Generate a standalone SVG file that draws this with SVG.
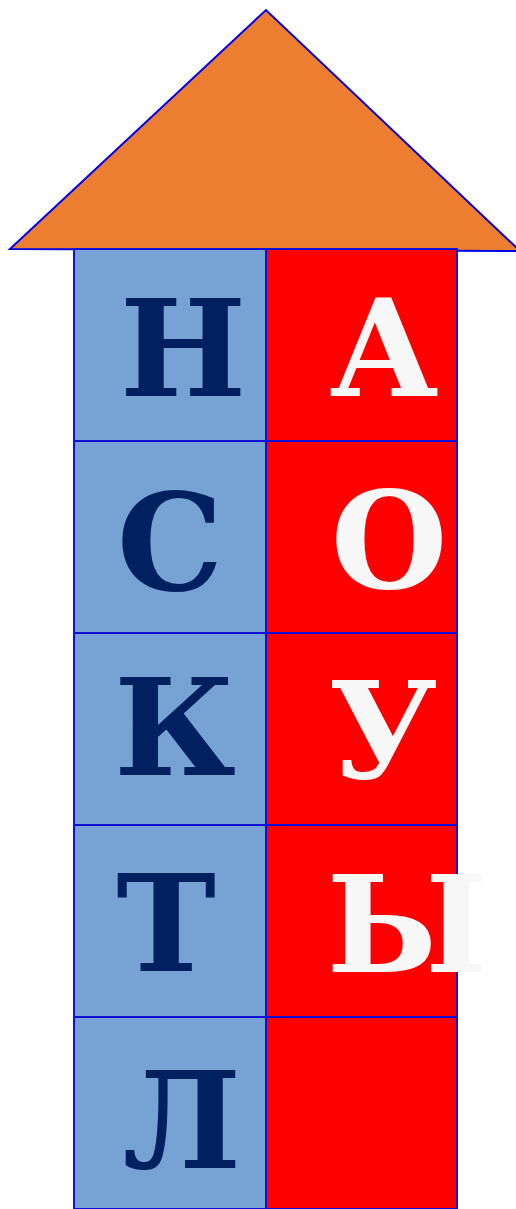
<svg xmlns="http://www.w3.org/2000/svg" width="516" height="1209" viewBox="0 0 516 1209">
<style>
.l{fill:#76A3D3;stroke:#1010D8;stroke-width:2}
.r{fill:#FF0000;stroke:#1010D8;stroke-width:2}
.t{font-family:"DejaVu Serif","Liberation Serif",serif;font-weight:bold;font-size:134px;text-anchor:middle}
.tl{fill:#002060}
.tr{fill:#F7F7F7}
</style>
<rect width="516" height="1209" fill="#FFFFFF"/>
<g id="roof"><polygon points="10,249 266,10 520,251" fill="#ED7D31" stroke="#0000E0" stroke-width="2" stroke-linejoin="miter"/></g>
<g id="cell-n"><rect class="l" x="74" y="249" width="192" height="192"/><text class="t tl" x="183" y="396">Н</text></g>
<g id="cell-a"><rect class="r" x="266" y="249" width="191" height="192"/><text class="t tr" x="384" y="396">А</text></g>
<g id="cell-s"><rect class="l" x="74" y="441" width="192" height="192"/><text class="t tl" x="170" y="590">С</text></g>
<g id="cell-o"><rect class="r" x="266" y="441" width="191" height="192"/><text class="t tr" x="389" y="588">О</text></g>
<g id="cell-k"><rect class="l" x="74" y="633" width="192" height="192"/><text class="t tl" x="175" y="775">К</text></g>
<g id="cell-u"><rect class="r" x="266" y="633" width="191" height="192"/><text class="t tr" x="383" y="778">У</text></g>
<g id="cell-t"><rect class="l" x="74" y="825" width="192" height="192"/><text class="t tl" x="166" y="971">Т</text></g>
<g id="cell-y"><rect class="r" x="266" y="825" width="191" height="192"/><text class="t tr" x="407" y="972">Ы</text></g>
<g id="cell-l"><rect class="l" x="74" y="1017" width="192" height="192"/><text class="t tl" x="182" y="1168">Л</text></g>
<g id="cell-empty"><rect class="r" x="266" y="1017" width="191" height="192"/></g>
</svg>
